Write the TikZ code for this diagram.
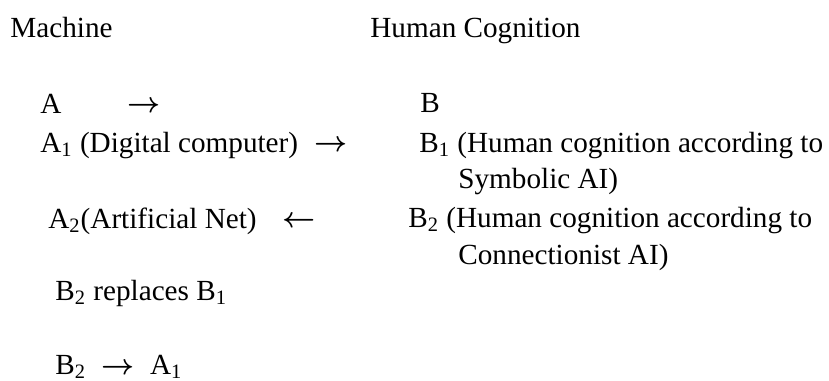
\documentclass[tikz,border=0pt]{standalone}
\usepackage{fontspec}
\usepackage{bm}
\setmainfont{Liberation Serif}
\newcommand{\rarr}{$\bm{\rightarrow}$}
\newcommand{\larr}{$\bm{\leftarrow}$}
\begin{document}
\begin{tikzpicture}[x=0.5pt,y=-0.5pt,
  txt/.style={anchor=base west,inner sep=0pt,font=\fontsize{14.6}{17}\selectfont}]
\useasboundingbox (0,0) rectangle (829,380);

% column heads
\node[txt] (machine) at (10,37) {Machine};
\node[txt] (human) at (370,37) {Human Cognition};

% machine side
\node[txt] (a) at (40,113) {A};
\node[txt] (ato) at (127,112) {\rarr};
\node[txt] (aone) at (40,152) {A\textsubscript{1} (Digital computer)};
\node[txt] (aoneto) at (314,151) {\rarr};
\node[txt] (atwo) at (48,228) {A\textsubscript{2}(Artificial Net)};
\node[txt] (atwofrom) at (282,227) {\larr};

% human side
\node[txt] (b) at (420,112) {B};
\node[txt] (bone) at (419,152) {B\textsubscript{1} (Human cognition according to};
\node[txt] (bonecont) at (458,188) {Symbolic AI)};
\node[txt] (btwo) at (408,227) {B\textsubscript{2} (Human cognition according to};
\node[txt] (btwocont) at (458,264) {Connectionist AI)};

% conclusions
\node[txt] (replace) at (55,300) {B\textsubscript{2} replaces B\textsubscript{1}};
\node[txt] (btoa) at (55,374) {B\textsubscript{2}\; \rarr\; A\textsubscript{1}};

\end{tikzpicture}
\end{document}
